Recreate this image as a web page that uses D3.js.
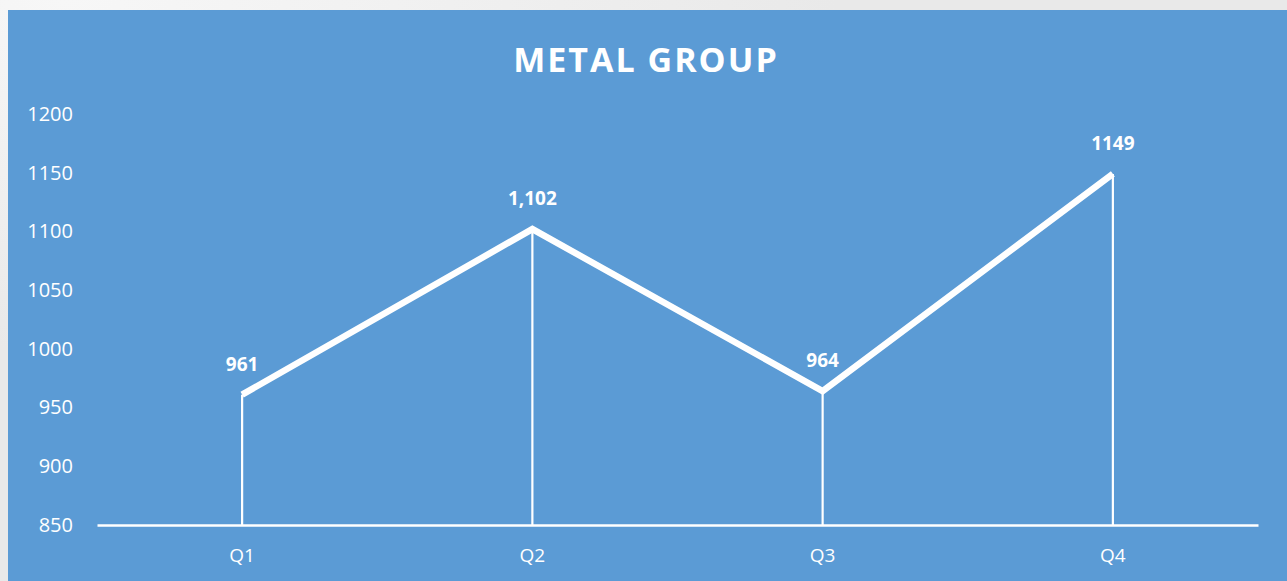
<!DOCTYPE html>
<html>
<head>
<meta charset="utf-8">
<script src="https://cdn.jsdelivr.net/npm/d3@7"></script>
<style>
  body { margin: 0; background: #ededed; }
  svg { display: block; font-family: "Open Sans", sans-serif; }
</style>
</head>
<body>
<div id="chart-area"></div>
<script>
// data
var quarters = ["Q1", "Q2", "Q3", "Q4"];
var values = [961, 1102, 964, 1149];
var valueLabels = ["961", "1,102", "964", "1149"];
var yTicks = [850, 900, 950, 1000, 1050, 1100, 1150, 1200];

var width = 1287, height = 581;

var svg = d3
  .select("#chart-area")
  .append("svg")
  .attr("width", width)
  .attr("height", height);

// outer light area + blue panel
var defs = svg.append("defs");
var grad = defs.append("radialGradient")
  .attr("id", "bgGrad")
  .attr("cx", "0.05").attr("cy", "0.0").attr("r", "0.6");
grad.append("stop").attr("offset", "0%").attr("stop-color", "#f7f7f7");
grad.append("stop").attr("offset", "100%").attr("stop-color", "#e9e9e9");
svg.append("rect").attr("width", width).attr("height", height).attr("fill", "url(#bgGrad)");

svg.append("rect")
  .attr("x", 8)
  .attr("y", 10)
  .attr("width", width - 8)
  .attr("height", height - 10)
  .attr("fill", "#5b9bd5");

var x = d3.scaleBand().domain(quarters).range([97, 1258]);
var y = d3.scaleLinear().domain([850, 1200]).range([525, 114]);

// title
svg.append("text")
  .attr("x", 646)
  .attr("y", 72)
  .attr("text-anchor", "middle")
  .attr("fill", "#fff")
  .style("font-size", "34px")
  .style("font-weight", "bold")
  .style("letter-spacing", "2px")
  .text("METAL GROUP");

// y axis labels (no line)
var yAxis = d3.axisLeft(y).tickValues(yTicks).tickFormat(d3.format("d")).tickSize(0).tickPadding(0);
var gy = svg.append("g").attr("transform", "translate(73,0)").call(yAxis);
gy.select(".domain").remove();
gy.selectAll("text")
  .attr("fill", "#fff")
  .style("font-family", "Open Sans, sans-serif")
  .style("font-size", "20px");

// x axis
var xAxis = d3.axisBottom(x).tickSize(0).tickPadding(24);
var gx = svg.append("g").attr("transform", "translate(0,525)").call(xAxis);
gx.select(".domain").attr("stroke", "#fff").attr("stroke-width", 2.5);
gx.selectAll("text")
  .attr("fill", "#fff")
  .style("font-family", "Open Sans, sans-serif")
  .style("font-size", "19px");

var cx = d => x(d) + x.bandwidth() / 2;

// drop lines
svg.selectAll(".drop")
  .data(quarters)
  .enter()
  .append("line")
  .attr("x1", d => cx(d))
  .attr("x2", d => cx(d))
  .attr("y1", (d, i) => y(values[i]))
  .attr("y2", y(850))
  .attr("stroke", "#fff")
  .attr("stroke-width", 2.2);

// main line
var line = d3.line()
  .x((d, i) => cx(quarters[i]))
  .y(d => y(d));

svg.append("path")
  .datum(values)
  .attr("d", line)
  .attr("fill", "none")
  .attr("stroke", "#fff")
  .attr("stroke-width", 6.5)
  .attr("stroke-linejoin", "miter");

// data labels
svg.selectAll(".lbl")
  .data(valueLabels)
  .enter()
  .append("text")
  .attr("x", (d, i) => cx(quarters[i]))
  .attr("y", (d, i) => y(values[i]) - 24)
  .attr("text-anchor", "middle")
  .attr("fill", "#fff")
  .style("font-size", "19px")
  .style("font-weight", "bold")
  .text(d => d);
</script>
</body>
</html>
